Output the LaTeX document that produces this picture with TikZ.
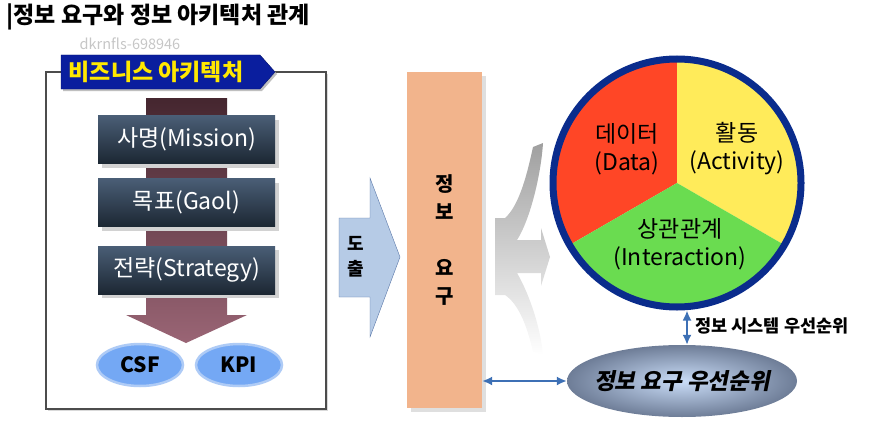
\documentclass[tikz,border=0pt]{standalone}
\usepackage{fontspec}
\setmainfont{Noto Sans CJK KR}
\newfontfamily\krslant[FakeSlant=0.2]{Noto Sans CJK KR}
\usetikzlibrary{shapes,shapes.geometric,shadows,arrows.meta}

\definecolor{slatetop}{HTML}{4A5E76}
\definecolor{slatebot}{HTML}{1C2733}
\definecolor{wine}{HTML}{45262F}
\definecolor{winelight}{HTML}{9A6575}
\definecolor{bannerblue}{HTML}{0A1E9E}
\definecolor{banneryellow}{HTML}{FFE800}
\definecolor{ballblue}{HTML}{74A8F4}
\definecolor{ballrim}{HTML}{AECBF6}
\definecolor{derivefill}{HTML}{B6CBE6}
\definecolor{derivedraw}{HTML}{5B78A8}
\definecolor{reqorange}{HTML}{F2B48C}
\definecolor{rimblue}{HTML}{0A2C8C}
\definecolor{datared}{HTML}{FF4626}
\definecolor{actyellow}{HTML}{FFEB5A}
\definecolor{intgreen}{HTML}{6ADC50}
\definecolor{prioin}{HTML}{CADDF8}
\definecolor{prioout}{HTML}{6E7D97}
\definecolor{linkblue}{HTML}{3D70B5}

\begin{document}
\begin{tikzpicture}[x=1pt,y=-1pt,
    goalbox/.style={rectangle, minimum width=177pt, minimum height=48pt, inner sep=0pt,
        top color=slatetop, bottom color=slatebot, text=white,
        font=\fontsize{23}{25}\selectfont,
        drop shadow={shadow xshift=4pt, shadow yshift=-4pt, fill=gray!35, opacity=1}},
    kpiball/.style={ellipse, minimum width=86pt, minimum height=42pt, inner sep=0pt,
        fill=ballblue, draw=ballrim, line width=2.5pt, font=\bfseries\fontsize{21}{23}\selectfont},
    bidir/.style={draw=linkblue, line width=1.8pt, {Latex[length=10pt,width=9pt]}-{Latex[length=10pt,width=9pt]}},
    pielabel/.style={align=center, font=\fontsize{23}{28}\selectfont}]

    \useasboundingbox (0,0) rectangle (875,436);

    \node[anchor=west, font=\bfseries\fontsize{23}{25}\selectfont] (title) at (3,17) {|정보 요구와 정보 아키텍처 관계};
    \node[text=gray!45, font=\fontsize{14.5}{16}\selectfont] (mark) at (130,44) {dkrnfls-698946};

    % business architecture frame
    \draw[draw=gray!60!black, line width=1.2pt, fill=white, drop shadow={shadow xshift=2pt, shadow yshift=-2pt, fill=gray!30, opacity=1}] (46,72) rectangle (326,409);

    \path[fill=bannerblue, draw=bannerblue!70!black, drop shadow={shadow xshift=2pt, shadow yshift=-2pt, fill=gray!50, opacity=1}] (61,55) -- (260,55) -- (275,72) -- (260,89) -- (61,89) -- cycle;
    \node[text=banneryellow, font=\bfseries\fontsize{23}{25}\selectfont] (bizarch) at (156,72) {비즈니스 아키텍처};

    \shade[top color=wine, bottom color=winelight] (146,98) -- (227,98) -- (227,315) -- (247,315) -- (186,343) -- (126,315) -- (146,315) -- cycle; %one bar behind the three boxes

    \node[goalbox] (mission) at (186.5,139.5) {사명(Mission)};
    \node[goalbox] (goal) at (186.5,202.5) {목표(Gaol)};
    \node[goalbox] (strategy) at (186.5,270) {전략(Strategy)};

    \node[kpiball] (csf) at (140,365) {CSF};
    \node[kpiball] (kpi) at (239,365) {KPI};

    % derive arrow
    \path[fill=derivefill, draw=derivedraw] (339,218) -- (370,218) -- (370,178) -- (400,257) -- (370,337) -- (370,297) -- (339,297) -- cycle;
    \node[align=center, font=\bfseries\fontsize{18}{25}\selectfont] (derive) at (356,257) {도\\출};

    \node[rectangle, minimum width=75pt, minimum height=336pt, fill=reqorange, align=center,
        font=\bfseries\fontsize{20}{28}\selectfont,
        drop shadow={shadow xshift=4pt, shadow yshift=-4pt, fill=gray!25, opacity=1}] (req) at (444.5,240) {정\\보\\\mbox{}\\요\\구};

    % three-way gray arrow
    \shade[top color=gray!75, bottom color=white] (495,218) -- (505,218) .. controls (520,205) and (528,170) .. (533,147) -- (543,143) .. controls (541,175) and (530,220) .. (517,240) -- (541,240) -- (541,228) -- (550,257) -- (541,286) -- (541,273) -- (517,273) .. controls (530,295) and (541,330) .. (543,355) -- (533,352) .. controls (528,330) and (520,305) .. (505,295) -- (495,295) -- cycle;

    % pie of data, activity and interaction
    \fill[datared] (677,183) -- (677,59) arc[start angle=-90, end angle=-210, radius=124] -- cycle;
    \fill[actyellow] (677,183) -- (677,59) arc[start angle=-90, end angle=30, radius=124] -- cycle;
    \fill[intgreen] (677,183) -- (569.6,245) arc[start angle=150, end angle=30, radius=124] -- cycle;
    \node[circle, draw=rimblue, line width=7pt, minimum size=248pt, inner sep=0pt] (pie) at (677,183) {};

    \node[pielabel] (data) at (627,149) {데이터\\(Data)};
    \node[pielabel] (activity) at (737,149) {활동\\(Activity)};
    \node[pielabel] (interaction) at (680,244) {상관관계\\(Interaction)};

    \node[ellipse, minimum width=230pt, minimum height=72pt, inner sep=0pt, inner color=prioin, outer color=prioout,
        font=\bfseries\krslant\fontsize{22.5}{24}\selectfont] (prio) at (682,381) {\makebox[0pt]{정보 요구 우선순위}};

    \draw[bidir] ([xshift=10pt]pie.south) -- ([xshift=10pt]pie.south |- prio.north);
    \node[anchor=west, font=\bfseries\fontsize{17.5}{19}\selectfont] (sysprio) at (692,326) {정보 시스템 우선순위};

    \draw[bidir] (req.east |- prio.west) -- (prio.west);
\end{tikzpicture}
\end{document}
